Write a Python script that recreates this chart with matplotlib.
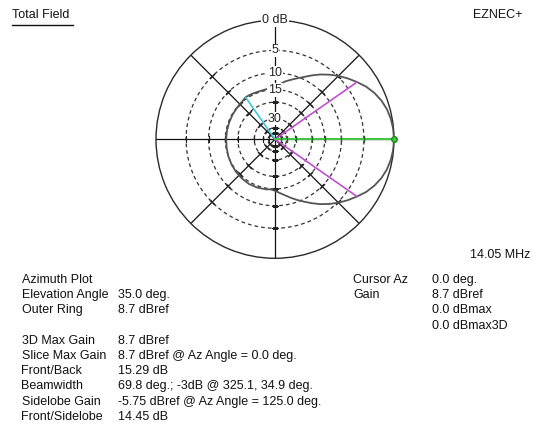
import numpy as np
import matplotlib
matplotlib.use("Agg")
import matplotlib.pyplot as plt
from matplotlib.lines import Line2D

plt.rcParams['font.family'] = ['Liberation Sans', 'DejaVu Sans']

# ---- data (azimuth pattern, dB relative to max) ----
azimuth_deg = [0, 5, 10, 15, 20, 25, 30, 35, 40, 45, 50, 55, 60, 65, 70, 75, 80, 85,
               90, 95, 100, 105, 110, 115, 120, 125, 130, 135, 140, 150, 160, 170, 180,
               190, 200, 210, 220, 230, 240, 250, 260, 265, 270, 275, 280, 285, 290,
               295, 300, 305, 310, 315, 320, 325, 330, 335, 340, 345, 350, 355, 360]
rel_db = [0.0, -0.05, -0.2, -0.45, -0.85, -1.4, -2.1, -3.0, -3.9, -4.85, -5.9, -7.0,
          -8.2, -9.4, -10.4, -11.3, -12.1, -13.2,
          -14.1, -14.4, -14.6, -14.7, -14.7, -14.6, -14.5, -14.45, -14.8, -15.0, -15.1,
          -15.2, -15.3, -15.3, -15.29,
          -15.2, -15.0, -14.8, -14.6, -14.45, -14.3, -14.4, -14.6, -14.8, -14.4, -13.6,
          -12.7, -11.6, -10.5,
          -9.4, -8.2, -7.0, -5.9, -4.85, -3.9, -3.0, -2.1, -1.4, -0.85, -0.45, -0.2,
          -0.05, 0.0]

ring_db = [-5, -10, -15, -20, -30, -40, -50]
ring_labels = {0: "0 dB", -5: "5", -10: "10", -15: "15", -30: "30"}
spoke_deg = [0, 45, 90, 135, 180, 225, 270, 315]

cursor_az = 0.0
beam_edges_deg = [34.9, 325.1]
beam_edge_db = -3.0
sidelobe_az = 125.0
sidelobe_db = -14.45

left_labels = ["Azimuth Plot", "Elevation Angle", "Outer Ring", "",
               "3D Max Gain", "Slice Max Gain", "Front/Back", "Beamwidth",
               "Sidelobe Gain", "Front/Sidelobe"]
left_values = ["", "35.0 deg.", "8.7 dBref", "",
               "8.7 dBref", "8.7 dBref @ Az Angle = 0.0 deg.", "15.29 dB",
               "69.8 deg.; -3dB @ 325.1, 34.9 deg.",
               "-5.75 dBref @ Az Angle = 125.0 deg.", "14.45 dB"]
right_labels = ["Cursor Az", "Gain", "", ""]
right_values = ["0.0 deg.", "8.7 dBref", "0.0 dBmax", "0.0 dBmax3D"]


def arrl(db):
    return 0.89 ** (-np.asarray(db, dtype=float) / 2.0)


W, H = 533, 432
fig = plt.figure(figsize=(W / 100, H / 100), dpi=100)
fig.patch.set_facecolor("white")

cx, cy, R = 275, 139.3, 119
ax = fig.add_axes([(cx - R) / W, 1 - (cy + R) / H, 2 * R / W, 2 * R / H],
                  projection="polar")
ax.set_ylim(0, 1)
ax.grid(False)
ax.set_xticks([])
ax.set_yticks([])
ax.spines["polar"].set_color("#2a2a2a")
ax.spines["polar"].set_linewidth(1.0)
ax.set_facecolor("white")

th_full = np.linspace(0, 2 * np.pi, 400)
for d in ring_db:
    ax.plot(th_full, np.full_like(th_full, arrl(d)), color="#333333", lw=0.9,
            ls=(0, (3, 2.4)), zorder=2)

for s in spoke_deg:
    t = np.deg2rad(s)
    ax.plot([t, t], [0, 1], color="#111111", lw=0.9, zorder=2)
    rr = arrl(ring_db)
    ax.plot(np.full(len(rr), t), rr, ls="none", marker=(2, 2, s), ms=5,
            mec="#222222", mew=0.8, zorder=3)

# pattern
ax.plot(np.deg2rad(azimuth_deg), arrl(rel_db), color="#555555", lw=1.3, zorder=4)

# beamwidth lines
for b in beam_edges_deg:
    ax.plot([np.deg2rad(b)] * 2, [0, arrl(beam_edge_db)], color="#c050d0", lw=1.2, zorder=5)
# sidelobe line
ax.plot([np.deg2rad(sidelobe_az)] * 2, [0, arrl(sidelobe_db)], color="#40c8d8", lw=1.2, zorder=5)
# cursor
ax.plot([np.deg2rad(cursor_az)] * 2, [0, 1], color="#44c444", lw=1.5, zorder=5)
rr = arrl(ring_db)
ax.plot(np.full(len(rr), np.deg2rad(cursor_az)), rr, ls="none", marker=(2, 2, 0), ms=4,
        mec="#226622", mew=0.8, zorder=6)
ax.plot([np.deg2rad(cursor_az)], [1], marker="o", ms=4, mfc="#44c444", mec="#228822", zorder=7,
        clip_on=False)

for d, lab in ring_labels.items():
    ax.text(np.pi / 2, arrl(d), lab, ha="center", va="center", fontsize=9, color="#222222",
            bbox=dict(fc="white", ec="none", pad=0.6), zorder=8, clip_on=False)

fs = 9
def ft(x, y, s, **kw):
    fig.text(x / W, 1 - y / H, s, fontsize=fs, va="center", ha=kw.pop("ha", "left"),
             color="#111111", **kw)

ft(12, 15.5, "Total Field")
fig.add_artist(Line2D([12 / W, 73 / W], [1 - 25 / H, 1 - 25 / H], color="#111111", lw=1.0))
ft(522, 15.5, "EZNEC+", ha="right")
ft(530, 255, "14.05 MHz", ha="right")

y0, dy = 280, 15.2
for i, (l, v) in enumerate(zip(left_labels, left_values)):
    y = y0 + i * dy
    if l:
        ft(21.5, y, l)
    if v:
        ft(118.5, y, v)
for i, (l, v) in enumerate(zip(right_labels, right_values)):
    y = y0 + i * dy
    if l:
        ft(353, y, l)
    ft(431.5, y, v)

fig.savefig("out.png", dpi=100, facecolor="white")
